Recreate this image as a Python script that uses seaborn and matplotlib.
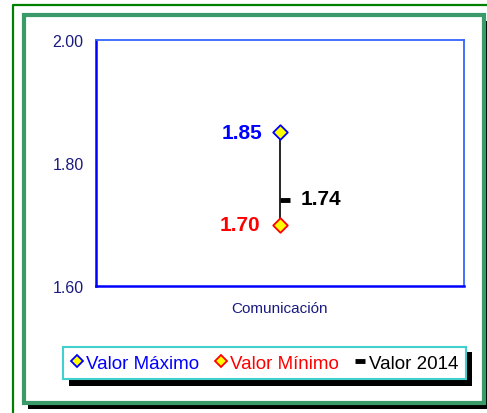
import seaborn as sns
import matplotlib.pyplot as plt
import pandas as pd
from matplotlib.patches import Rectangle
from matplotlib.lines import Line2D

# data
categories = ['Comunicación']
max_vals = [1.85]
min_vals = [1.70]
val_2014 = [1.74]
y_ticks = [1.60, 1.80, 2.00]

df = pd.DataFrame({'cat': categories, 'max': max_vals, 'min': min_vals, 'v2014': val_2014})

sns.set_style('white')
plt.rcParams['font.family'] = ['Liberation Sans', 'DejaVu Sans']

W, H = 487, 414
fig = plt.figure(figsize=(W / 100, H / 100), dpi=100)
ax = fig.add_axes([96 / W, 1 - 287 / H, (464 - 96) / W, (287 - 41) / H])

def fx(px):
    return px / W

def fy(py):
    return 1 - py / H

# outer thin green line and inner framed border with shadow
fig.add_artist(Line2D([fx(13), fx(13), 1.0], [0.0, fy(6), fy(6)], color='#008000', lw=1.6))
fig.patches.append(Rectangle((fx(28), fy(410)), fx(460), 388 / H, transform=fig.transFigure,
                             facecolor='black', edgecolor='none', zorder=-2))
fig.patches.append(Rectangle((fx(24), fy(404)), fx(460), 388 / H, transform=fig.transFigure,
                             facecolor='white', edgecolor='#3a9a6a', lw=3, zorder=-1))
ax.set_facecolor('none')

# high-low line
ax.vlines(df['cat'], df['min'], df['max'], color='black', lw=1.2, zorder=2)
sns.scatterplot(data=df, x='cat', y='max', marker='D', s=55, color='#ffff00',
                edgecolor='#0000ff', linewidth=1.3, zorder=3, ax=ax)
sns.scatterplot(data=df, x='cat', y='min', marker='D', s=55, color='#ffff00',
                edgecolor='#ff0000', linewidth=1.3, zorder=3, ax=ax)
ax.plot(df['cat'], df['v2014'], marker=1, markersize=7, mew=3.5, color='black', ls='none', zorder=3)

for c, v in zip(df['cat'], df['max']):
    ax.annotate(f'{v:.2f}', (c, v), xytext=(-13, 0), textcoords='offset points',
                ha='right', va='center', color='#0000ff', fontsize=15, fontweight='bold')
for c, v in zip(df['cat'], df['min']):
    ax.annotate(f'{v:.2f}', (c, v), xytext=(-14, 0), textcoords='offset points',
                ha='right', va='center', color='#ff0000', fontsize=15, fontweight='bold')
for c, v in zip(df['cat'], df['v2014']):
    ax.annotate(f'{v:.2f}', (c, v), xytext=(15, 1), textcoords='offset points',
                ha='left', va='center', color='black', fontsize=15, fontweight='bold')

ax.set_xlim(-0.5, 0.5)
ax.set_ylim(1.6, 2.0)
ax.set_yticks(y_ticks, [f'{t:.2f}' for t in y_ticks])
ax.set_xticks([-0.5, 0.5], ['', ''])
ax.set_xticks([0], categories, minor=True)
ax.tick_params(axis='both', which='major', direction='inout', length=6, width=1.3,
               color='#0000ff', labelcolor='#1a1a80', labelsize=11.5, pad=6)
ax.tick_params(axis='x', which='minor', length=0, labelcolor='#1a1a80', labelsize=11, pad=11)
ax.set_xlabel('')
ax.set_ylabel('')
for side in ['left', 'bottom']:
    ax.spines[side].set_color('#0000ff')
    ax.spines[side].set_linewidth(1.8)
for side in ['top', 'right']:
    ax.spines[side].set_color('#3366ff')
    ax.spines[side].set_linewidth(1.3)

# legend with offset black shadow
handles = [
    Line2D([], [], marker='D', ls='none', markersize=6.5, markerfacecolor='#ffff00',
           markeredgecolor='#0000ff', mew=1.3),
    Line2D([], [], marker='D', ls='none', markersize=6.5, markerfacecolor='#ffff00',
           markeredgecolor='#ff0000', mew=1.3),
    Line2D([], [], marker='_', ls='none', markersize=7, mew=3.5, color='black'),
]
labels = ['Valor Máximo', 'Valor Mínimo', 'Valor 2014']
fig.patches.append(Rectangle((fx(69), fy(387)), (466 - 63) / W, 34 / H, transform=fig.transFigure,
                             facecolor='black', edgecolor='none', zorder=4))
leg = fig.legend(handles, labels, loc='center', ncol=3, frameon=True, fancybox=False,
                 bbox_to_anchor=(fx(63), fy(381), (466 - 63) / W, 34 / H), mode='expand',
                 fontsize=13.5, handlelength=0.7, handletextpad=0.15, columnspacing=0.9,
                 borderaxespad=0, borderpad=0.4)
leg.get_frame().set_edgecolor('#40d0d0')
leg.get_frame().set_linewidth(1.5)
leg.get_frame().set_facecolor('white')
leg.get_frame().set_alpha(1)
for t, c in zip(leg.get_texts(), ['#0000ff', '#ff0000', 'black']):
    t.set_color(c)

fig.savefig('out.png', dpi=100)
